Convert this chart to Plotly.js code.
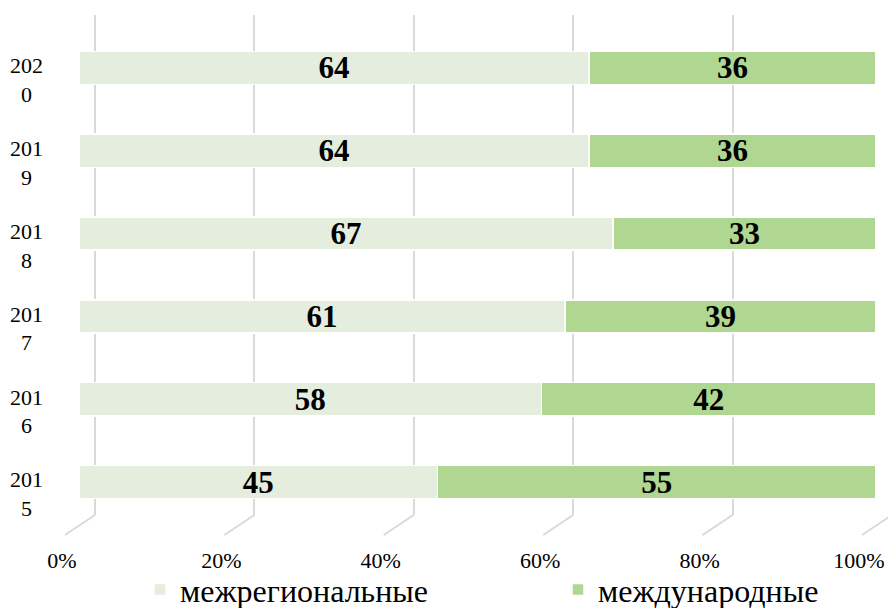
<!DOCTYPE html>
<html>
<head>
<meta charset="utf-8">
<script src="https://cdn.plot.ly/plotly-3.0.1.min.js"></script>
<style>html,body{margin:0;padding:0;background:#fff;}#chart{width:888px;height:608px;}</style>
</head>
<body>
<div id="chart"></div>
<script>
// ---- data ----
const years = ['2015', '2016', '2017', '2018', '2019', '2020'];
const yearTickLabels = ['201<br>5\u00a0\u00a0', '201<br>6\u00a0\u00a0', '201<br>7\u00a0\u00a0', '201<br>8\u00a0\u00a0', '201<br>9\u00a0\u00a0', '202<br>0\u00a0\u00a0'];
const interregional = [45, 58, 61, 67, 64, 64];
const international = [55, 42, 39, 33, 36, 36];
const seriesNames = ['межрегиональные', 'международные'];
const pctTicks = [0, 20, 40, 60, 80, 100];
const pctTickLabels = ['0%', '20%', '40%', '60%', '80%', '100%'];

// ---- styling ----
const SERIF = 'Liberation Serif, Times New Roman, serif';
const labelFont = {family: SERIF, size: 31, color: '#000000', weight: 'bold'};

const traces = [
  {
    type: 'bar', orientation: 'h', name: seriesNames[0], legend: 'legend',
    y: years, x: interregional, xaxis: 'x2', yaxis: 'y2',
    marker: {color: '#e4edde', line: {color: '#ffffff', width: 1.5}},
    text: interregional, texttemplate: '%{text}', textposition: 'inside', textangle: 0,
    insidetextanchor: 'middle', textfont: labelFont, constraintext: 'none',
    hoverinfo: 'skip'
  },
  {
    type: 'bar', orientation: 'h', name: seriesNames[1], legend: 'legend2',
    y: years, x: international, xaxis: 'x2', yaxis: 'y2',
    marker: {color: '#afd792', line: {color: '#ffffff', width: 1.5}},
    text: international, texttemplate: '%{text}', textposition: 'inside', textangle: 0,
    insidetextanchor: 'middle', textfont: labelFont, constraintext: 'none',
    hoverinfo: 'skip'
  },
  // empty carrier so the percent-label axis is drawn
  {type: 'scatter', mode: 'none', x: [], y: [], xaxis: 'x3', yaxis: 'y', showlegend: false, hoverinfo: 'skip'}
];

// back grid geometry (3D look): grid plane shifted right/up from the bars plane
const barRange = [-3.639, 101.505];
const gridShift = 2.0;      // grid plane offset in % units
const labelShift = 4.14;    // tick labels sit left of the grid lines
const floorShapes = pctTicks.map(t => ({
  type: 'line', xref: 'x', yref: 'paper',
  x0: t, y0: 0.1530, x1: t - 3.76, y1: 0.1201,
  line: {color: '#d9d9d9', width: 2}, layer: 'below'
}));

const legendFont = {family: SERIF, size: 32, color: '#000000'};

const layout = {
  width: 888, height: 608,
  margin: {l: 50, r: 0, t: 0, b: 0, autoexpand: false},
  paper_bgcolor: '#ffffff', plot_bgcolor: 'rgba(0,0,0,0)',
  barmode: 'stack', bargap: 0.6,
  font: {family: SERIF, size: 22, color: '#000000'},
  showlegend: true,
  legend: {
    orientation: 'h', x: (140 - 50) / 838, xanchor: 'left', y: -0.015, yanchor: 'bottom',
    font: legendFont, bgcolor: 'rgba(0,0,0,0)', borderwidth: 0
  },
  legend2: {
    orientation: 'h', x: (558 - 50) / 838, xanchor: 'left', y: -0.015, yanchor: 'bottom',
    font: legendFont, bgcolor: 'rgba(0,0,0,0)', borderwidth: 0
  },
  // back plane (grid)
  xaxis: {
    domain: [0, 1], anchor: 'y', range: [barRange[0] - gridShift, barRange[1] - gridShift],
    tickvals: pctTicks, showticklabels: false, ticks: '',
    showgrid: true, gridcolor: '#d9d9d9', gridwidth: 2,
    zeroline: false, showline: false, automargin: false, fixedrange: true
  },
  yaxis: {
    domain: [0.1530, 0.9753], anchor: 'x', range: [0, 1],
    showgrid: false, zeroline: false, showline: false, showticklabels: false, ticks: '',
    automargin: false, fixedrange: true
  },
  // percent labels (floor front edge)
  xaxis3: {
    overlaying: 'x', anchor: 'y', side: 'bottom',
    range: [barRange[0] - gridShift + labelShift, barRange[1] - gridShift + labelShift],
    tickvals: pctTicks, ticktext: pctTickLabels, ticks: '',
    showgrid: false, zeroline: false, showline: false,
    ticklabelstandoff: 30, automargin: false,
    tickfont: {family: SERIF, size: 22, color: '#000000'}, fixedrange: true
  },
  // front plane (bars)
  xaxis2: {
    domain: [0, 1], anchor: 'y2', range: barRange,
    showgrid: false, zeroline: false, showline: false, showticklabels: false, ticks: '',
    automargin: false, fixedrange: true
  },
  yaxis2: {
    domain: [0.1391, 0.9563], anchor: 'x2', type: 'category', range: [-0.5, 5.5],
    tickvals: years, ticktext: yearTickLabels, ticks: '',
    showgrid: false, zeroline: false, showline: false,
    ticklabelstandoff: 6, ticklabelshift: 12, automargin: false,
    tickfont: {family: SERIF, size: 22, color: '#000000'}, fixedrange: true
  },
  shapes: floorShapes
};

Plotly.newPlot('chart', traces, layout, {displayModeBar: false, staticPlot: true});
</script>
</body>
</html>
